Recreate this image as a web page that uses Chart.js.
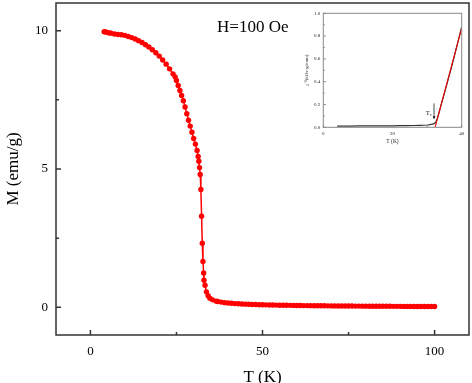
<!DOCTYPE html>
<html>
<head>
<meta charset="utf-8">
<script src="https://cdn.jsdelivr.net/npm/chart.js@4/dist/chart.umd.min.js"></script>
<style>
  body { margin: 0; background: #fff; }
  #wrap { position: relative; width: 472px; height: 383px; }
  #mainChart { position: absolute; left: 0; top: 0; }
  #insetChart { position: absolute; left: 290px; top: 5px; }
</style>
</head>
<body>
<div id="wrap">
  <canvas id="mainChart" width="472" height="383"></canvas>
  <canvas id="insetChart" width="180" height="140"></canvas>
</div>
<script>
// main M(T) curve, H = 100 Oe
let tempK = [4, 4.5, 5, 5.5, 6, 7, 8, 9, 10, 11, 12, 13, 14, 15, 16, 17, 18, 19, 20, 21, 22, 23, 24, 24.6,
  25, 25.5, 26, 26.5, 27, 27.5, 28, 28.5, 29, 29.5, 30, 30.5, 31, 31.3, 31.5, 31.7, 31.9, 32.1, 32.3, 32.5,
  32.7, 32.9, 33, 33.3, 33.7, 34.2, 34.7, 35.5, 36.6,
  37, 38, 39, 40, 41, 42, 43, 44, 45, 46, 47, 48, 49, 50, 51, 52, 53, 54, 55, 56, 57, 58, 59, 60,
  61, 62, 63, 64, 65, 66, 67, 68, 69, 70, 71, 72, 73, 74, 75, 76, 77, 78, 79, 80,
  81, 82, 83, 84, 85, 86, 87, 88, 89, 90, 91, 92, 93, 94, 95, 96, 97, 98, 99, 100]
let magM = [9.96, 9.95, 9.93, 9.92, 9.91, 9.88, 9.86, 9.85, 9.83, 9.79, 9.75, 9.70, 9.64, 9.57, 9.49, 9.41, 9.31, 9.20, 9.08, 8.94, 8.79, 8.62, 8.44, 8.33,
  8.20, 8.02, 7.84, 7.66, 7.47, 7.24, 7.00, 6.76, 6.55, 6.33, 6.10, 5.90, 5.67, 5.45, 5.28, 5.05, 4.80, 4.26, 3.29, 2.32,
  1.66, 1.24, 0.98, 0.80, 0.56, 0.42, 0.33, 0.27, 0.22,
  0.21, 0.19, 0.17, 0.155, 0.145, 0.135, 0.128, 0.121, 0.115, 0.110, 0.105, 0.100, 0.096, 0.092, 0.089, 0.086, 0.083, 0.080, 0.078, 0.075, 0.073, 0.071, 0.069, 0.067,
  0.065, 0.063, 0.062, 0.060, 0.059, 0.057, 0.056, 0.055, 0.053, 0.052, 0.051, 0.050, 0.049, 0.048, 0.047, 0.046, 0.045, 0.044, 0.043, 0.042,
  0.041, 0.040, 0.040, 0.039, 0.038, 0.037, 0.037, 0.036, 0.035, 0.035, 0.034, 0.033, 0.033, 0.032, 0.032, 0.031, 0.030, 0.030, 0.029, 0.029]

let mainXTicks = [0, 50, 100]
let mainXMinor = [25, 75]
let mainYTicks = [0, 5, 10]
let mainYMinor = [2.5, 7.5]

// inset: inverse susceptibility
let insetT = [4, 6, 8, 10, 12, 14, 16, 18, 20, 22, 24, 26, 28, 29, 30, 30.5, 31, 31.5, 32, 32.5, 33, 34, 35, 36, 37, 38, 39, 40]
let insetChi = [0.011, 0.011, 0.011, 0.012, 0.012, 0.012, 0.013, 0.013, 0.013, 0.014, 0.015, 0.016, 0.017, 0.018, 0.020, 0.022, 0.025, 0.028, 0.032, 0.045, 0.080, 0.19, 0.30, 0.41, 0.52, 0.64, 0.76, 0.88]
let fitT = [32.3, 40]
let fitChi = [0, 0.87]

let insetXTicks = [0, 20, 40]
let insetXMinor = [10, 30]
let insetYTicks = [0, 0.2, 0.4, 0.6, 0.8, 1.0]
let insetYMinor = [0.1, 0.3, 0.5, 0.7, 0.9]

let serif = "'Liberation Serif', 'Times New Roman', serif"

function toPoints(xs, ys) {
  return xs.map((v, i) => ({ x: v, y: ys[i] }))
}

// box frame plus inward tick marks
let frameTicks = {
  id: 'frameTicks',
  afterDraw(chart, args, opts) {
    let ctx = chart.ctx
    let a = chart.chartArea
    let xs = chart.scales.x
    let ys = chart.scales.y
    ctx.save()
    ctx.strokeStyle = opts.color
    ctx.lineWidth = opts.width
    ctx.strokeRect(a.left, a.top, a.right - a.left, a.bottom - a.top)
    ctx.beginPath()
    opts.xMajor.forEach(v => { let p = xs.getPixelForValue(v); ctx.moveTo(p, a.bottom); ctx.lineTo(p, a.bottom - opts.major) })
    opts.xMinor.forEach(v => { let p = xs.getPixelForValue(v); ctx.moveTo(p, a.bottom); ctx.lineTo(p, a.bottom - opts.minor) })
    opts.yMajor.forEach(v => { let p = ys.getPixelForValue(v); ctx.moveTo(a.left, p); ctx.lineTo(a.left + opts.major, p) })
    opts.yMinor.forEach(v => { let p = ys.getPixelForValue(v); ctx.moveTo(a.left, p); ctx.lineTo(a.left + opts.minor, p) })
    ctx.stroke()
    ctx.restore()
  }
}

let mainText = {
  id: 'mainText',
  afterDraw(chart) {
    let ctx = chart.ctx
    ctx.save()
    ctx.fillStyle = '#000'
    ctx.font = '17px ' + serif
    ctx.textBaseline = 'middle'
    ctx.fillText('H=100 Oe', chart.scales.x.getPixelForValue(36.8), chart.scales.y.getPixelForValue(10.13))
    ctx.restore()
  }
}

let tcMark = {
  id: 'tcMark',
  afterDraw(chart) {
    let ctx = chart.ctx
    let xs = chart.scales.x
    let ys = chart.scales.y
    ctx.save()
    ctx.fillStyle = '#000'
    ctx.textBaseline = 'middle'
    ctx.font = '6px ' + serif
    let tx = xs.getPixelForValue(29.7)
    let ty = ys.getPixelForValue(0.125)
    ctx.fillText('T', tx, ty)
    ctx.font = '4px ' + serif
    ctx.fillText('c', tx + 4, ty + 2)
    // little arrow pointing at Tc
    let ax = xs.getPixelForValue(32.0)
    let a1 = ys.getPixelForValue(0.21)
    let a2 = ys.getPixelForValue(0.08)
    ctx.strokeStyle = '#000'
    ctx.lineWidth = 0.7
    ctx.beginPath()
    ctx.moveTo(ax, a1)
    ctx.lineTo(ax, a2)
    ctx.stroke()
    ctx.beginPath()
    ctx.moveTo(ax, a2 + 1)
    ctx.lineTo(ax - 1.3, a2 - 2)
    ctx.lineTo(ax + 1.3, a2 - 2)
    ctx.closePath()
    ctx.fill()
    ctx.restore()
  }
}

// fixed axis sizes so the plot box lands where the picture has it
function fixY(w) {
  return s => { s.width = w; s.paddingTop = 0; s.paddingBottom = 0 }
}
function fixX(h) {
  return s => { s.height = h; s.paddingLeft = 0; s.paddingRight = 0 }
}

let ctx = document.getElementById('mainChart').getContext('2d')
let chart = new Chart(ctx, {
  type: 'scatter',
  data: {
    datasets: [{
      data: toPoints(tempK, magM),
      showLine: true,
      borderColor: 'rgb(255, 0, 0)',
      borderWidth: 1.5,
      backgroundColor: 'rgb(255, 0, 0)',
      pointRadius: 2.7,
      pointBorderWidth: 0,
      pointHoverRadius: 2.7
    }]
  },
  options: {
    responsive: false,
    animation: false,
    devicePixelRatio: 1,
    layout: { padding: { top: 3, right: 3, left: 0, bottom: 0 } },
    plugins: {
      legend: { display: false },
      tooltip: { enabled: false },
      frameTicks: { color: '#333', width: 1.5, major: 5, minor: 3,
        xMajor: mainXTicks, xMinor: mainXMinor, yMajor: mainYTicks, yMinor: mainYMinor }
    },
    scales: {
      x: {
        type: 'linear', min: -10, max: 110,
        grid: { display: false, drawTicks: false },
        border: { display: false },
        afterBuildTicks: s => { s.ticks = mainXTicks.map(v => ({ value: v })) },
        afterFit: fixX(48),
        ticks: { color: '#000', padding: 9, font: { family: serif, size: 13 } },
        title: { display: true, text: 'T (K)', color: '#000', padding: 0,
          font: { family: serif, size: 17, lineHeight: 0.7 } }
      },
      y: {
        type: 'linear', min: -1, max: 11,
        grid: { display: false, drawTicks: false },
        border: { display: false },
        afterBuildTicks: s => { s.ticks = mainYTicks.map(v => ({ value: v })) },
        afterFit: fixY(56),
        ticks: { color: '#000', padding: 8, font: { family: serif, size: 13 } },
        title: { display: true, text: 'M (emu/g)', color: '#000', padding: { top: 3 },
          font: { family: serif, size: 17 } }
      }
    }
  },
  plugins: [frameTicks, mainText]
})

let ctx2 = document.getElementById('insetChart').getContext('2d')
let inset = new Chart(ctx2, {
  type: 'scatter',
  data: {
    datasets: [{
      // linear fit drawn on top of the data
      data: toPoints(fitT, fitChi),
      showLine: true,
      borderColor: 'rgb(235, 0, 0)',
      borderWidth: 1.1,
      pointRadius: 0
    }, {
      data: toPoints(insetT, insetChi),
      showLine: true,
      borderColor: '#333',
      borderWidth: 1.2,
      pointRadius: 0
    }]
  },
  options: {
    responsive: false,
    animation: false,
    devicePixelRatio: 1,
    layout: { padding: { top: 8.3, right: 8.3, left: 0, bottom: 0 } },
    plugins: {
      legend: { display: false },
      tooltip: { enabled: false },
      frameTicks: { color: '#888', width: 1, major: 2.5, minor: 1.5,
        xMajor: insetXTicks, xMinor: insetXMinor, yMajor: insetYTicks, yMinor: insetYMinor }
    },
    scales: {
      x: {
        type: 'linear', min: 0, max: 40,
        grid: { display: false, drawTicks: false },
        border: { display: false },
        afterBuildTicks: s => { s.ticks = insetXTicks.map(v => ({ value: v })) },
        afterFit: fixX(17.7),
        ticks: { color: '#222', padding: 3, font: { family: serif, size: 5 } },
        title: { display: true, text: 'T (K)', color: '#222', padding: { bottom: 0.3 },
          font: { family: serif, size: 5.5, lineHeight: 1.2 } }
      },
      y: {
        type: 'linear', min: 0, max: 1,
        grid: { display: false, drawTicks: false },
        border: { display: false },
        afterBuildTicks: s => { s.ticks = insetYTicks.map(v => ({ value: v })) },
        afterFit: fixY(33.3),
        ticks: { color: '#222', padding: 3, font: { family: serif, size: 5 },
          callback: v => v.toFixed(1) },
        title: { display: true, text: 'χ⁻¹(kOe·g/emu)', color: '#222', padding: { top: 13.7 },
          font: { family: serif, size: 5, lineHeight: 1.2 } }
      }
    }
  },
  plugins: [frameTicks, tcMark]
})
</script>
</body>
</html>
